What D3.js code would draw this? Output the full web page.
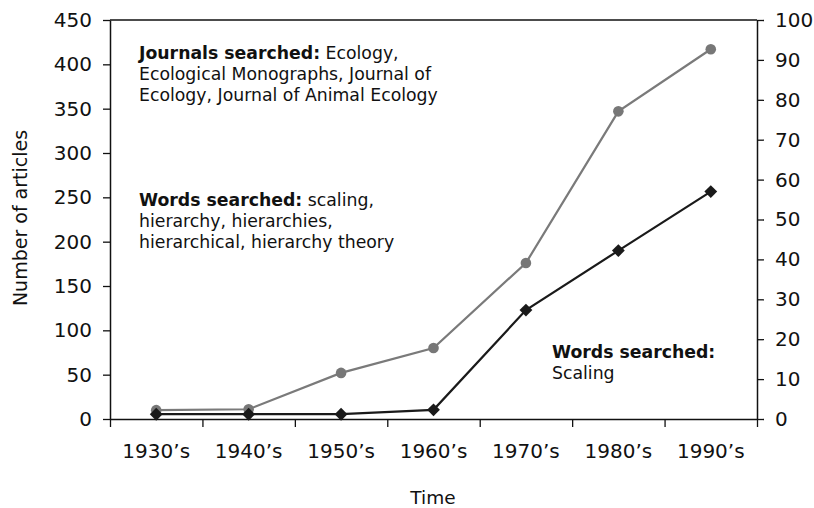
<!DOCTYPE html>
<html>
<head>
<meta charset="utf-8">
<script src="https://cdn.jsdelivr.net/npm/d3@7"></script>
<style>
  html, body { margin: 0; padding: 0; background: #fff; }
  svg { display: block; font-family: "DejaVu Sans", sans-serif; }
</style>
</head>
<body>
<svg id="chart" width="814" height="508"></svg>
<script>
const categories = ["1930\u2019s", "1940\u2019s", "1950\u2019s", "1960\u2019s", "1970\u2019s", "1980\u2019s", "1990\u2019s"];
// Gray series: hierarchy-related words (left axis)
const hierarchyCounts = [10, 11, 52, 80, 176, 347, 417];
// Black series: "Scaling" (right axis)
const scalingCounts = [1.2, 1.2, 1.2, 2.3, 27.3, 42.2, 57];
const leftTicks = [0, 50, 100, 150, 200, 250, 300, 350, 400, 450];
const rightTicks = [0, 10, 20, 30, 40, 50, 60, 70, 80, 90, 100];

const svg = d3.select("#chart");
const L = 110, R = 757, T = 20, B = 419;

const x = d3.scaleBand().domain(categories).range([L, R]).paddingInner(0).paddingOuter(0);
const xEdges = d3.scaleLinear().domain([0, categories.length]).range([L, R]);
const yL = d3.scaleLinear().domain([0, 450]).range([B, T]);
const yR = d3.scaleLinear().domain([0, 100]).range([B, T]);

const axisColor = "#111";

// top border
svg.append("line").attr("x1", L).attr("x2", R).attr("y1", T).attr("y2", T)
  .attr("stroke", axisColor).attr("stroke-width", 1.5);

// left axis
const gL = svg.append("g").attr("transform", `translate(${L},0)`)
  .call(d3.axisLeft(yL).tickValues(leftTicks).tickSize(7).tickPadding(11).tickSizeOuter(0));
// right axis
const gR = svg.append("g").attr("transform", `translate(${R},0)`)
  .call(d3.axisRight(yR).tickValues(rightTicks).tickSize(7).tickPadding(11).tickSizeOuter(0));
// bottom axis: boundary ticks
const gB = svg.append("g").attr("transform", `translate(0,${B})`)
  .call(d3.axisBottom(xEdges).tickValues(d3.range(0, categories.length + 1)).tickFormat("").tickSize(8).tickSizeOuter(0));
// bottom labels at band centers
const gBL = svg.append("g").attr("transform", `translate(0,${B})`)
  .call(d3.axisBottom(x).tickSize(0).tickPadding(25));
gBL.select(".domain").remove();

[gL, gR, gB].forEach(g => {
  g.select(".domain").attr("stroke", axisColor).attr("stroke-width", 1.5);
  g.selectAll(".tick line").attr("stroke", axisColor).attr("stroke-width", 1.3);
});
[gL, gR, gBL].forEach(g => {
  g.selectAll(".tick text").attr("font-size", 20).attr("font-family", "DejaVu Sans, sans-serif").attr("fill", "#111");
});

// axis titles
svg.append("text").attr("x", 433).attr("y", 504).attr("text-anchor", "middle")
  .attr("font-size", 18.5).attr("fill", "#111").text("Time");
svg.append("text").attr("transform", "translate(27,218) rotate(-90)").attr("text-anchor", "middle")
  .attr("font-size", 19).attr("fill", "#111").text("Number of articles");

// lines
const lineL = d3.line().x((d, i) => x(categories[i]) + x.bandwidth() / 2).y(d => yL(d));
const lineR = d3.line().x((d, i) => x(categories[i]) + x.bandwidth() / 2).y(d => yR(d));

svg.append("path").datum(hierarchyCounts).attr("d", lineL)
  .attr("fill", "none").attr("stroke", "#7a7a7a").attr("stroke-width", 2.2);
svg.append("g").selectAll("circle").data(hierarchyCounts).join("circle")
  .attr("cx", (d, i) => x(categories[i]) + x.bandwidth() / 2)
  .attr("cy", d => yL(d)).attr("r", 5.3).attr("fill", "#777");

svg.append("path").datum(scalingCounts).attr("d", lineR)
  .attr("fill", "none").attr("stroke", "#1a1a1a").attr("stroke-width", 2.2);
const diamond = d3.symbol().type(d3.symbolDiamond2).size(105);
svg.append("g").selectAll("path").data(scalingCounts).join("path")
  .attr("transform", (d, i) => `translate(${x(categories[i]) + x.bandwidth() / 2},${yR(d)})`)
  .attr("d", diamond).attr("fill", "#1a1a1a");

// annotations
function note(xp, yp, lines) {
  const t = svg.append("text").attr("font-size", 17.3).attr("fill", "#111");
  lines.forEach((ln, i) => {
    const first = t.append("tspan").attr("x", xp).attr("y", yp + i * 21);
    ln.forEach((seg, j) => {
      const s = j === 0 ? first : t.append("tspan");
      s.attr("font-weight", seg[1] ? "bold" : "normal").text(seg[0]);
    });
  });
}
note(139, 59, [
  [["Journals searched:", true], [" Ecology,", false]],
  [["Ecological Monographs, Journal of", false]],
  [["Ecology, Journal of Animal Ecology", false]]
]);
note(139, 206, [
  [["Words searched:", true], [" scaling,", false]],
  [["hierarchy, hierarchies,", false]],
  [["hierarchical, hierarchy theory", false]]
]);
note(552, 358, [
  [["Words searched:", true]],
  [["Scaling", false]]
]);
</script>
</body>
</html>
